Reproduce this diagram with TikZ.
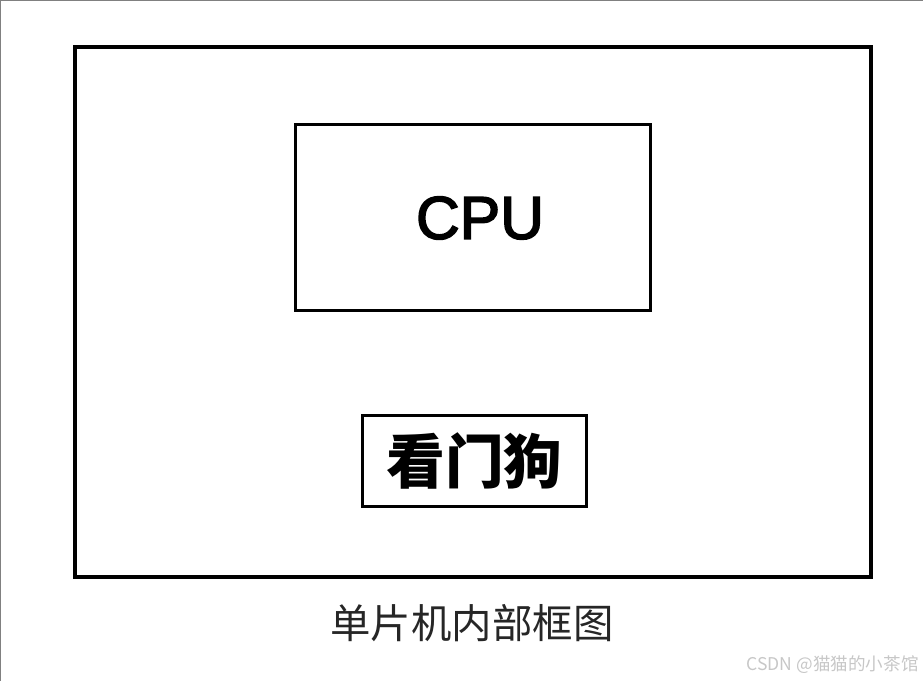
\documentclass[tikz,border=0pt]{standalone}
\usepackage{fontspec}
\setmainfont{Liberation Sans}
\newfontfamily\cpufont[FakeBold=2.5]{Liberation Sans}
\newfontfamily\cjk{Noto Sans CJK SC}
\usetikzlibrary{positioning}

\begin{document}
\begin{tikzpicture}[x=0.02cm,y=-0.02cm,every node/.style={inner sep=0pt}]
    \tikzstyle{board lines}=[draw=black, line width=0.08cm, minimum width=15.92cm, minimum height=10.6cm]
    \tikzstyle{part lines}=[draw=black, line width=0.06cm]

    \useasboundingbox (0,0) rectangle (923,681);
    % thin frame of the screenshot
    \draw[gray, line width=0.03cm] (0,681) -- (0,0) -- (923,0);

    % MCU board
    \node[style=board lines] (mcu) at (473,312) {};
    \node[style=part lines, minimum width=7.12cm, minimum height=3.74cm] (cpu) at (473,217.5) {};
    \node[font=\cpufont\fontsize{34.5}{34.5}\selectfont] (cpulabel) at (480,218) {CPU};
    \node[style=part lines, minimum width=4.5cm, minimum height=1.82cm, font=\cjk\bfseries\fontsize{33.5}{33.5}\selectfont] (wdt) at (474.5,461) {看门狗};

    % captions
    \node[font=\cjk\fontsize{23}{23}\selectfont, text=black!85] (caption) at (472,623) {单片机内部框图};
    \node[anchor=east, font=\cjk\fontsize{10}{10}\selectfont, text=black!22] (mark) at (919,665) {CSDN @猫猫的小茶馆};
\end{tikzpicture}
\end{document}
